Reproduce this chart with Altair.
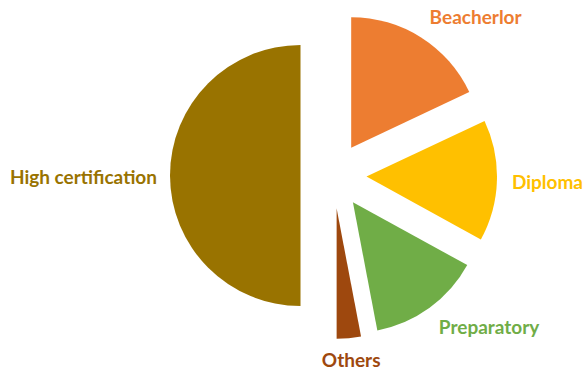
import altair as alt
import pandas as pd

categories = ["Beacherlor", "Diploma", "Preparatory", "Others", "High certification"]
values = [18, 15, 14, 3, 50]
colors = ["#ED7D31", "#FFC000", "#70AD47", "#9E480E", "#997300"]

df = pd.DataFrame({"category": categories, "value": values, "order": list(range(len(categories)))})

CX, CY, R, EXPLODE, LABEL_GAP = 333.5, 175.5, 130.5, 33, 14

base = (
    alt.Chart(df)
    .transform_window(cum="sum(value)", sort=[alt.SortField("order")], frame=[None, 0])
    .transform_joinaggregate(total="sum(value)")
    .transform_calculate(
        start="2*PI*(datum.cum - datum.value)/datum.total",
        end="2*PI*datum.cum/datum.total",
    )
    .transform_calculate(mid="(datum.start + datum.end)/2")
    .transform_calculate(
        cx=f"{CX} + {EXPLODE}*sin(datum.mid)",
        cy=f"{CY} - {EXPLODE}*cos(datum.mid)",
    )
    .transform_calculate(
        lx=f"datum.cx + {R + LABEL_GAP}*sin(datum.mid)",
        ly=f"datum.cy - {R + LABEL_GAP}*cos(datum.mid)",
        al="sin(datum.mid) > 0.3 ? 'left' : (sin(datum.mid) < -0.3 ? 'right' : 'center')",
        bl="cos(datum.mid) > 0.3 ? 'bottom' : (cos(datum.mid) < -0.3 ? 'top' : 'middle')",
    )
)

color = alt.Color("category:N", scale=alt.Scale(domain=categories, range=colors), legend=None)

arcs = base.mark_arc(outerRadius=R).encode(
    x=alt.X("cx:Q", scale=None, axis=None),
    y=alt.Y("cy:Q", scale=None, axis=None),
    theta=alt.Theta("start:Q", scale=None, stack=None),
    theta2="end:Q",
    color=color,
)

labels = base.mark_text(
    font="Lato",
    fontSize=19,
    fontWeight="bold",
    dy=alt.expr("datum.bl == 'top' ? 0 : 2"),
    dx=1,
    align=alt.expr("datum.al"),
    baseline=alt.expr("datum.bl"),
).encode(
    x=alt.X("lx:Q", scale=None, axis=None),
    y=alt.Y("ly:Q", scale=None, axis=None),
    text="category:N",
    color=color,
)

chart = (
    alt.layer(arcs, labels)
    .properties(width=583, height=371, padding=0, autosize="none", background="white")
    .configure_view(stroke=None)
)

chart.save("out.html", embed_options={"renderer": "svg", "actions": False})
